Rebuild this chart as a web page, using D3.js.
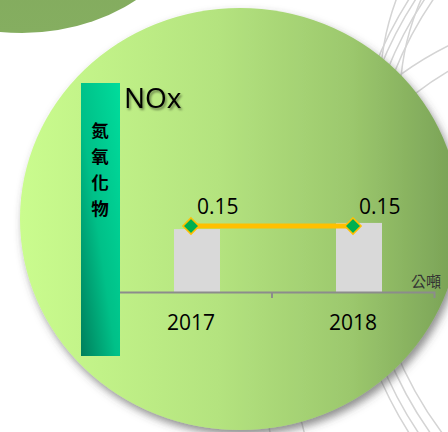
<!DOCTYPE html>
<html>
<head>
<meta charset="utf-8">
<script src="https://cdn.jsdelivr.net/npm/d3@7"></script>
<style>
  html, body { margin: 0; padding: 0; background: #ffffff; }
  svg { display: block; }
</style>
</head>
<body>
<svg id="chart" width="448" height="432"></svg>
<script>
// NOx emissions by year (tonnes)
const categories = ["2017", "2018"];
const lineValues = [0.15, 0.15];
const barValues = [0.143, 0.157];
const titleText = "NOx";
const axisTitleChars = ["氮", "氧", "化", "物"];
const unitText = "公噸";

const svg = d3.select("#chart");
const defs = svg.append("defs");

// gradients
const bg = defs.append("linearGradient").attr("id", "discGrad")
  .attr("x1", "0%").attr("x2", "100%").attr("y1", "0%").attr("y2", "0%");
bg.append("stop").attr("offset", "0%").attr("stop-color", "#cafc8e");
bg.append("stop").attr("offset", "45%").attr("stop-color", "#b4e37f");
bg.append("stop").attr("offset", "75%").attr("stop-color", "#9cc86d");
bg.append("stop").attr("offset", "100%").attr("stop-color", "#78a055");

const tl = defs.append("linearGradient").attr("id", "cornerGrad")
  .attr("x1", "0%").attr("x2", "0%").attr("y1", "0%").attr("y2", "100%");
tl.append("stop").attr("offset", "0%").attr("stop-color", "#7c9f57");
tl.append("stop").attr("offset", "100%").attr("stop-color", "#85ae60");

const sb = defs.append("linearGradient").attr("id", "sideGrad")
  .attr("x1", "100%").attr("y1", "0%").attr("x2", "0%").attr("y2", "100%");
sb.append("stop").attr("offset", "0%").attr("stop-color", "#00dc9c");
sb.append("stop").attr("offset", "55%").attr("stop-color", "#00c088");
sb.append("stop").attr("offset", "100%").attr("stop-color", "#007f5c");

const shadow = defs.append("filter").attr("id", "discShadow")
  .attr("x", "-10%").attr("y", "-10%").attr("width", "125%").attr("height", "125%");
shadow.append("feDropShadow").attr("dx", 3).attr("dy", 5).attr("stdDeviation", 4)
  .attr("flood-color", "#444444").attr("flood-opacity", 0.6);

const txtShadow = defs.append("filter").attr("id", "textShadow")
  .attr("x", "-20%").attr("y", "-20%").attr("width", "150%").attr("height", "150%");
txtShadow.append("feDropShadow").attr("dx", 1.5).attr("dy", 2).attr("stdDeviation", 1.2)
  .attr("flood-color", "#000000").attr("flood-opacity", 0.45);

// decorative thin rings on the right, mostly hidden behind the disc
const deco = svg.append("g").attr("fill", "none").attr("stroke", "#d4d4d4").attr("stroke-width", 1.5);
const decoRings = [
  {cx: 740, cy: 210, r: 372},
  {cx: 742, cy: 212, r: 382},
  {cx: 745, cy: 214, r: 393},
  {cx: 750, cy: 216, r: 404},
  {cx: 600, cy: 350, r: 340},
  {cx: 610, cy: 345, r: 318},
  {cx: 640, cy: 90, r: 260},
  {cx: 650, cy: 100, r: 250}
];
deco.selectAll("circle").data(decoRings).join("circle")
  .attr("cx", d => d.cx).attr("cy", d => d.cy).attr("r", d => d.r);

// corner disc top-left
svg.append("ellipse").attr("cx", 22).attr("cy", -122).attr("rx", 185).attr("ry", 155)
  .attr("fill", "url(#cornerGrad)");

// main disc
svg.append("ellipse").attr("cx", 240).attr("cy", 219).attr("rx", 220).attr("ry", 211)
  .attr("fill", "url(#discGrad)").attr("filter", "url(#discShadow)");

// scales
const baseY = 292;
const x = d3.scaleBand().domain(categories).range([110, 434]);
const y = d3.scaleLinear().domain([0, 0.3]).range([baseY, 160]);
const barWidth = 46;
const barShift = 6;
const cx = c => x(c) + x.bandwidth() / 2;

// bars
svg.append("g").selectAll("rect").data(categories).join("rect")
  .attr("x", (c) => cx(c) + barShift - barWidth / 2)
  .attr("width", barWidth)
  .attr("y", (c, i) => y(barValues[i]))
  .attr("height", (c, i) => baseY - y(barValues[i]))
  .attr("fill", "#d9d9d9");

// axis
const axis = svg.append("g").attr("transform", `translate(0,${baseY})`)
  .call(d3.axisBottom(x).tickSize(0).tickSizeOuter(6).tickPadding(0));
axis.select(".domain").attr("stroke", "#8c8c8c").attr("stroke-width", 2);
axis.selectAll(".tick text").remove();
axis.append("line")
  .attr("x1", x(categories[1])).attr("x2", x(categories[1]))
  .attr("y1", 0).attr("y2", 6)
  .attr("stroke", "#8c8c8c").attr("stroke-width", 2);
svg.append("g").selectAll("text").data(categories).join("text")
  .attr("x", c => cx(c)).attr("y", 330)
  .attr("text-anchor", "middle")
  .attr("font-family", "'Open Sans', sans-serif")
  .attr("font-size", 21)
  .attr("fill", "#000")
  .text(c => c);

// line series
const line = d3.line().x((d, i) => cx(categories[i])).y(d => y(d));
svg.append("path").datum(lineValues).attr("d", line)
  .attr("fill", "none").attr("stroke", "#ffc000").attr("stroke-width", 5);

const diamond = d3.symbol().type(d3.symbolDiamond2).size(165);
svg.append("g").selectAll("path").data(lineValues).join("path")
  .attr("d", diamond)
  .attr("transform", (d, i) => `translate(${cx(categories[i])},${y(d)})`)
  .attr("fill", "#00b050").attr("stroke", "#ffc000").attr("stroke-width", 1.6);

svg.append("g").selectAll("text").data(lineValues).join("text")
  .attr("x", (d, i) => cx(categories[i]) + 6)
  .attr("y", d => y(d) - 12)
  .attr("font-family", "'Open Sans', sans-serif")
  .attr("font-size", 21)
  .attr("fill", "#000")
  .text(d => d.toFixed(2));

// unit label
svg.append("text").attr("x", 411).attr("y", 287)
  .attr("font-family", "'Noto Sans CJK TC', sans-serif")
  .attr("font-size", 15).attr("fill", "#333")
  .text(unitText);

// side band with vertical title
svg.append("rect").attr("x", 81).attr("y", 83).attr("width", 39).attr("height", 273)
  .attr("fill", "url(#sideGrad)");
svg.append("g").selectAll("text").data(axisTitleChars).join("text")
  .attr("x", 100).attr("y", (d, i) => 137 + i * 26)
  .attr("text-anchor", "middle")
  .attr("font-family", "'Noto Sans CJK TC', sans-serif")
  .attr("font-weight", "bold")
  .attr("font-size", 17.5).attr("fill", "#000")
  .text(d => d);

// title
svg.append("text").attr("x", 124).attr("y", 108)
  .attr("font-family", "'Open Sans', sans-serif")
  .attr("font-size", 28).attr("fill", "#000")
  .attr("filter", "url(#textShadow)")
  .text(titleText);
</script>
</body>
</html>
